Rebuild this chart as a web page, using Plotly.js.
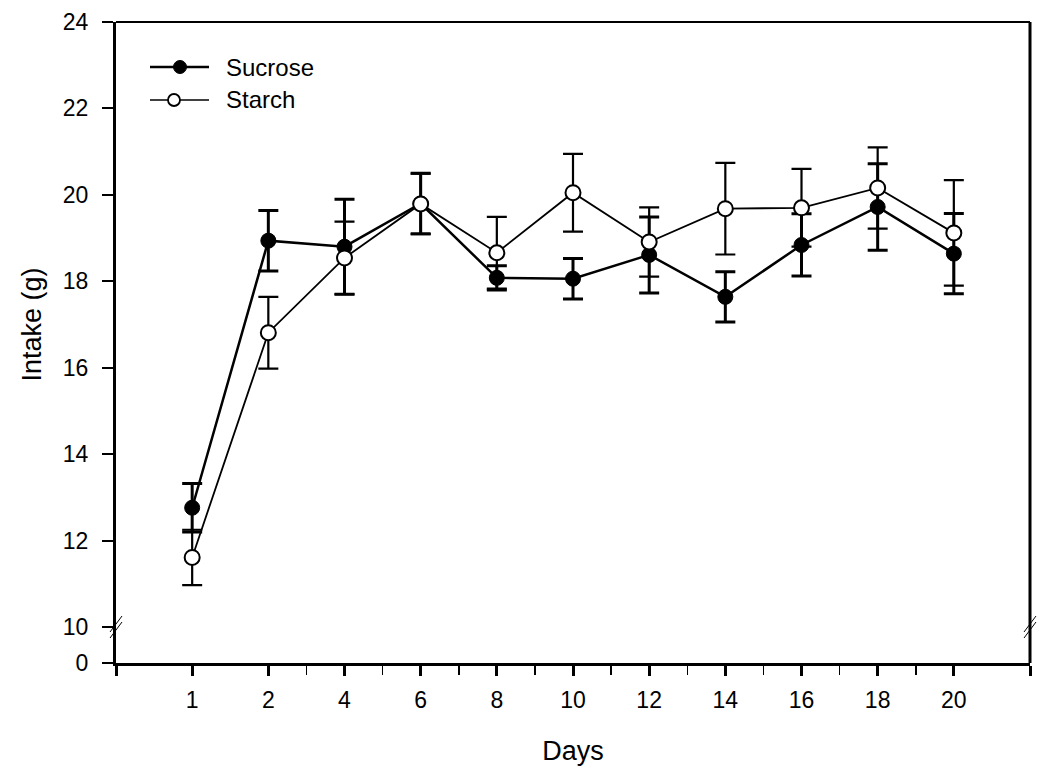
<!DOCTYPE html>
<html>
<head>
<meta charset="utf-8">
<script src="https://cdn.plot.ly/plotly-3.0.1.min.js"></script>
<style>html,body{margin:0;padding:0;background:#fff;}#chart{width:1050px;height:778px;}</style>
</head>
<body>
<div id="chart"></div>
<script>
// Data
const days = ['1', '2', '4', '6', '8', '10', '12', '14', '16', '18', '20'];
const sucrose = [12.76, 18.94, 18.80, 19.80, 18.08, 18.06, 18.61, 17.64, 18.84, 19.72, 18.64];
const sucroseErr = [0.56, 0.70, 1.10, 0.70, 0.28, 0.47, 0.88, 0.58, 0.72, 1.00, 0.93];
const starch = [11.61, 16.81, 18.54, 19.79, 18.66, 20.05, 18.91, 19.68, 19.70, 20.16, 19.12];
const starchErr = [0.64, 0.83, 0.84, 0.70, 0.83, 0.90, 0.80, 1.06, 0.90, 0.94, 1.22];
const yTicks = [10, 12, 14, 16, 18, 20, 22, 24];
const seriesNames = ['Sucrose', 'Starch'];

const xIdx = days.map((d, i) => i + 1);
const font = 'Liberation Sans, Arial, sans-serif';

const traces = [
  {
    x: xIdx, y: sucrose, name: seriesNames[0], type: 'scatter', mode: 'lines+markers',
    line: {color: '#000', width: 2.5},
    marker: {symbol: 'circle', size: 15, color: '#000', line: {color: '#000', width: 1}},
    error_y: {type: 'data', array: sucroseErr, visible: true, color: '#000', thickness: 3, width: 10},
    xaxis: 'x', yaxis: 'y', showlegend: false
  },
  {
    x: xIdx, y: starch, name: seriesNames[1], type: 'scatter', mode: 'lines+markers',
    line: {color: '#000', width: 1.8},
    marker: {symbol: 'circle', size: 15, color: '#fff', line: {color: '#000', width: 2}},
    error_y: {type: 'data', array: starchErr, visible: true, color: '#000', thickness: 2.2, width: 10},
    xaxis: 'x', yaxis: 'y', showlegend: false
  },
  // empty trace so that the lower (broken) axis segment is drawn
  {x: [null], y: [null], xaxis: 'x', yaxis: 'y2', type: 'scatter', mode: 'markers', showlegend: false, hoverinfo: 'skip'}
];

const brk = 36 / 641;
const tickvalsX = [0].concat(xIdx).concat([days.length + 1]);
const ticktextX = [''].concat(days).concat(['']);
const minorX = [];
for (let i = 2; i < days.length; i++) minorX.push(i + 0.5);

function brkMarks(xa) {
  const out = [];
  [-3, 3].forEach(off => {
    out.push({type: 'line', xref: 'paper', yref: 'paper', xsizemode: 'pixel', ysizemode: 'pixel',
      xanchor: xa, yanchor: brk, x0: -6, y0: -8 + off, x1: 6, y1: 8 + off,
      line: {color: '#000', width: 1}});
  });
  return out;
}

// hand-built legend (longer sample lines than Plotly's native legend)
function legendItem(dy, cx, d, fill, lw, mlw) {
  return [
    {type: 'line', xref: 'paper', yref: 'paper', xsizemode: 'pixel', ysizemode: 'pixel',
      xanchor: 0, yanchor: 1, x0: 34, x1: 93, y0: dy, y1: dy, line: {color: '#000', width: lw}},
    {type: 'circle', xref: 'paper', yref: 'paper', xsizemode: 'pixel', ysizemode: 'pixel',
      xanchor: 0, yanchor: 1, x0: cx - d / 2, x1: cx + d / 2, y0: dy - d / 2, y1: dy + d / 2,
      fillcolor: fill, line: {color: '#000', width: mlw}}
  ];
}

const layout = {
  width: 1050, height: 778,
  margin: {l: 116, r: 20, t: 22, b: 115},
  paper_bgcolor: '#fff', plot_bgcolor: '#fff',
  font: {family: font, color: '#000', size: 22},
  showlegend: false,
  xaxis: {
    range: [0, days.length + 1], anchor: 'y2', showgrid: false, zeroline: false,
    showline: true, linecolor: '#000', linewidth: 3,
    tickmode: 'array', tickvals: tickvalsX, ticktext: ticktextX,
    ticks: 'outside', ticklen: 10, tickwidth: 3, tickcolor: '#000',
    tickfont: {family: font, size: 23}, ticklabelstandoff: 4,
    minor: {tickmode: 'array', tickvals: minorX, ticks: 'outside', ticklen: 9, tickwidth: 1.5, tickcolor: '#000', showgrid: false},
    title: {text: 'Days', font: {family: font, size: 27}, standoff: 30}
  },
  yaxis: {
    domain: [brk, 1], range: [10, 24], anchor: 'x', showgrid: false, zeroline: false,
    showline: true, linecolor: '#000', linewidth: 3,
    tickmode: 'array', tickvals: yTicks, ticktext: yTicks.map(String),
    ticks: 'outside', ticklen: 11, tickwidth: 2, tickcolor: '#000',
    tickfont: {family: font, size: 23}, ticklabelstandoff: 9,
    title: {text: 'Intake (g)', font: {family: font, size: 27}, standoff: 14}
  },
  yaxis2: {
    domain: [0, brk], range: [0, 0.8], anchor: 'x', showgrid: false, zeroline: false,
    showline: true, linecolor: '#000', linewidth: 3,
    tickmode: 'array', tickvals: [0], ticktext: ['0'],
    ticks: 'outside', ticklen: 11, tickwidth: 2, tickcolor: '#000',
    tickfont: {family: font, size: 23}, ticklabelstandoff: 9
  },
  shapes: [
    {type: 'line', xref: 'paper', yref: 'paper', x0: 0, x1: 1, y0: 1, y1: 1, line: {color: '#000', width: 2}},
    {type: 'line', xref: 'paper', yref: 'paper', x0: 1, x1: 1, y0: 0, y1: 1, line: {color: '#000', width: 3}}
  ].concat(brkMarks(0)).concat(brkMarks(1))
   .concat(legendItem(-45, 64, 13, '#000', 2.5, 1))
   .concat(legendItem(-78, 58, 12, '#fff', 1.5, 1.8)),
  annotations: [
    {xref: 'paper', yref: 'paper', x: (224 - 116) / 914, y: 1 - (68 - 22) / 641, xanchor: 'left', yanchor: 'middle',
      text: seriesNames[0], showarrow: false, font: {family: font, size: 24, color: '#000'}},
    {xref: 'paper', yref: 'paper', x: (224 - 116) / 914, y: 1 - (99 - 22) / 641, xanchor: 'left', yanchor: 'middle',
      text: seriesNames[1], showarrow: false, font: {family: font, size: 24, color: '#000'}}
  ]
};

Plotly.newPlot('chart', traces, layout, {displayModeBar: false, staticPlot: true});
</script>
</body>
</html>
